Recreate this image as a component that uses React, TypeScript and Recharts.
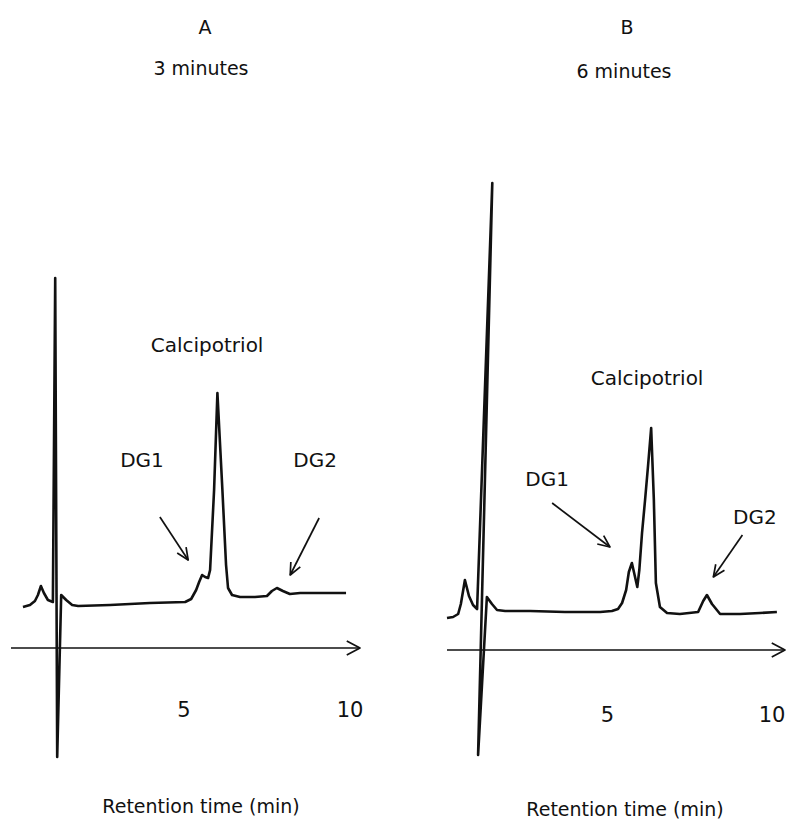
import React from "react";
import { LineChart, Line, XAxis, YAxis, ReferenceLine, ReferenceDot } from "recharts";

// Panel A: 3 minutes. Retention time (min) vs detector signal (arbitrary units)
const timeA = [
  0.16, 0.37, 0.52, 0.61, 0.7, 0.79, 0.91, 1.06, 1.13, 1.19, 1.31, 1.46, 1.64, 1.82,
  2.78, 3.98, 5.04, 5.22, 5.37, 5.46, 5.55, 5.64, 5.73, 5.79, 5.91, 6.01, 6.16, 6.27,
  6.33, 6.45, 6.69, 7.14, 7.5, 7.65, 7.8, 7.98, 8.19, 8.5, 9.1, 9.88,
];
const signalA = [
  4.1, 4.3, 4.7, 5.3, 6.2, 5.5, 4.8, 4.6, 37.0, -10.9, 5.3, 4.8, 4.3, 4.2,
  4.3, 4.5, 4.6, 4.9, 5.8, 6.6, 7.3, 7.1, 7.0, 7.8, 15.8, 25.5, 15.8, 8.3,
  6.0, 5.3, 5.1, 5.1, 5.2, 5.7, 6.0, 5.7, 5.4, 5.5, 5.5, 5.5,
];

// Panel B: 6 minutes
const timeB = [
  0.25, 0.43, 0.58, 0.66, 0.78, 0.9, 1.02, 1.14, 1.59, 1.17, 1.43, 1.58, 1.73, 1.97,
  2.71, 3.74, 4.78, 5.13, 5.31, 5.43, 5.55, 5.63, 5.72, 5.8, 5.88, 5.94, 6.02, 6.11,
  6.2, 6.29, 6.37, 6.43, 6.55, 6.76, 7.14, 7.68, 7.83, 7.94, 8.09, 8.33, 8.92, 9.51, 10.01,
];
const signalB = [
  3.2, 3.3, 3.6, 4.6, 7.0, 5.4, 4.5, 4.1, 46.7, -10.5, 5.3, 4.6, 4.0, 3.9,
  3.9, 3.8, 3.8, 3.9, 4.1, 4.7, 6.0, 7.8, 8.7, 7.5, 6.3, 8.0, 11.7, 15.0,
  18.5, 22.2, 15.0, 6.7, 4.3, 3.7, 3.6, 3.8, 4.9, 5.5, 4.6, 3.6, 3.6, 3.7, 3.8,
];

const tickMinutes = [5, 10];

const peakLabelsA = [
  { text: "Calcipotriol", t: 5.7, v: 30.3 },
  { text: "DG1", t: 3.74, v: 18.8 },
  { text: "DG2", t: 8.95, v: 18.8 },
];
const peakArrowsA = [
  { from: [4.28, 13.1], to: [5.13, 8.8] },
  { from: [9.07, 13.0], to: [8.2, 7.3] },
];

const peakLabelsB = [
  { text: "Calcipotriol", t: 6.17, v: 27.2 },
  { text: "DG1", t: 3.21, v: 17.1 },
  { text: "DG2", t: 9.36, v: 13.3 },
];
const peakArrowsB = [
  { from: [3.36, 14.7], to: [5.07, 10.3] },
  { from: [8.99, 11.5], to: [8.13, 7.3] },
];

const INK = "#111";

const arrowShape = (len: number, spread: number, width: number) => (p: any) => {
  const { x1, y1, x2, y2 } = p;
  const ang = Math.atan2(y2 - y1, x2 - x1);
  const ax = x2 - len * Math.cos(ang - spread);
  const ay = y2 - len * Math.sin(ang - spread);
  const bx = x2 - len * Math.cos(ang + spread);
  const by = y2 - len * Math.sin(ang + spread);
  return (
    <g>
      <line x1={x1} y1={y1} x2={x2} y2={y2} stroke={INK} strokeWidth={width} />
      <polyline
        points={`${ax},${ay} ${x2},${y2} ${bx},${by}`}
        fill="none"
        stroke={INK}
        strokeWidth={width}
        strokeLinejoin="round"
      />
    </g>
  );
};

const Panel = ({ time, signal, xDomain, yDomain, margin, width, left, tickShift, labels, arrows }: any) => {
  const data = time.map((t: number, i: number) => ({ t, v: signal[i] }));
  return (
    <div style={{ position: "absolute", left, top: 0 }}>
      <LineChart width={width} height={824} data={data} margin={margin}>
        <XAxis
          type="number"
          dataKey="t"
          domain={xDomain}
          ticks={tickMinutes}
          height={54}
          axisLine={false}
          tickLine={false}
          tickSize={0}
          tickMargin={0}
          tick={({ x, y, payload }: any) => (
            // keep the last label inside the picture edge
            <text
              x={Math.min(x, width - 15)}
              y={y + tickShift}
              textAnchor="middle"
              dominantBaseline="central"
              fontSize={21}
              fill={INK}
            >
              {payload.value}
            </text>
          )}
        />
        <YAxis type="number" domain={yDomain} hide />
        <ReferenceLine y={0} shape={arrowShape(15, 0.49, 1.7)} />
        {arrows.map((a: any, i: number) => (
          <ReferenceLine
            key={i}
            segment={[
              { x: a.from[0], y: a.from[1] },
              { x: a.to[0], y: a.to[1] },
            ]}
            shape={arrowShape(13, 0.42, 1.7)}
          />
        ))}
        <Line
          type="linear"
          dataKey="v"
          stroke={INK}
          strokeWidth={2.6}
          strokeLinejoin="round"
          dot={false}
          activeDot={false}
          isAnimationActive={false}
        />
        {labels.map((l: any) => (
          <ReferenceDot
            key={l.text}
            x={l.t}
            y={l.v}
            r={0}
            fill="none"
            stroke="none"
            label={{ value: l.text, position: "center", fill: INK, fontSize: 20 }}
          />
        ))}
      </LineChart>
    </div>
  );
};

const Title = ({ x, y, children, size = 19 }: any) => (
  <div
    style={{
      position: "absolute",
      left: x,
      top: y,
      transform: "translate(-50%, -50%)",
      fontSize: size,
      whiteSpace: "nowrap",
      color: INK,
    }}
  >
    {children}
  </div>
);

export default function App() {
  return (
    <div
      style={{
        position: "relative",
        width: 787,
        height: 824,
        background: "#fff",
        fontFamily: "'DejaVu Sans', sans-serif",
        overflow: "hidden",
      }}
    >
      <style>{`body{margin:0}`}</style>
      <Panel
        time={timeA}
        signal={signalA}
        xDomain={[-0.2, 10.3]}
        yDomain={[-12.2, 47.8]}
        margin={{ top: 170, right: 33, bottom: 0, left: 11 }}
        width={393}
        left={0}
        tickShift={-60}
        labels={peakLabelsA}
        arrows={peakArrowsA}
      />
      <Panel
        time={timeB}
        signal={signalB}
        xDomain={[0.25, 10.25]}
        yDomain={[-12, 48]}
        margin={{ top: 170, right: 2, bottom: 0, left: 10 }}
        width={350}
        left={437}
        tickShift={-55}
        labels={peakLabelsB}
        arrows={peakArrowsB}
      />
      <Title x={205} y={27}>A</Title>
      <Title x={201} y={68}>3 minutes</Title>
      <Title x={627} y={27}>B</Title>
      <Title x={624} y={71}>6 minutes</Title>
      <Title x={201} y={806}>Retention time (min)</Title>
      <Title x={625} y={809}>Retention time (min)</Title>
    </div>
  );
}
